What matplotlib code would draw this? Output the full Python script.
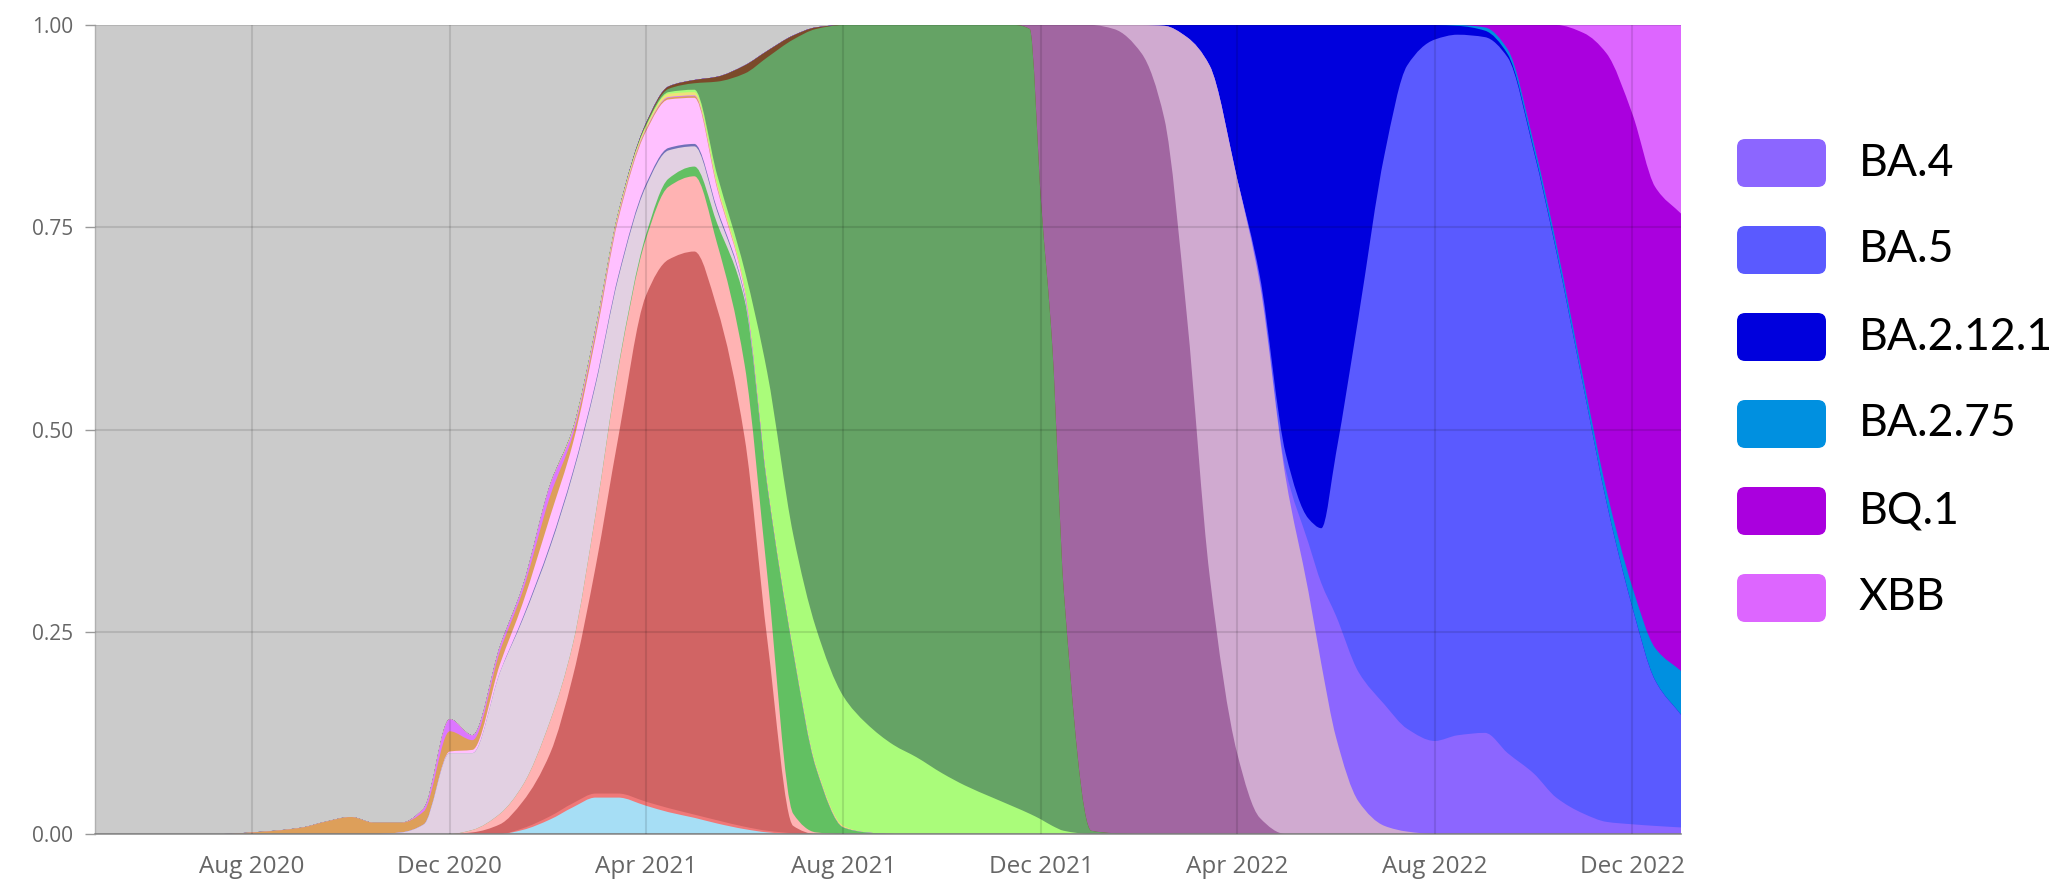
import datetime as dt
import numpy as np
import matplotlib
matplotlib.use("Agg")
import matplotlib.pyplot as plt
import matplotlib.dates as mdates
from matplotlib.patches import FancyBboxPatch, PathPatch
from matplotlib.path import Path

# ---------------- data (share of sequences) ----------------
dates = [
    "2020-05-01", "2020-05-15", "2020-06-01", "2020-06-15", "2020-07-01", "2020-07-15",
    "2020-08-01", "2020-08-15", "2020-09-01", "2020-09-15", "2020-10-01", "2020-10-15",
    "2020-11-01", "2020-11-15", "2020-12-01", "2020-12-15", "2021-01-01", "2021-01-15",
    "2021-02-01", "2021-02-15", "2021-03-01", "2021-03-15", "2021-04-01", "2021-04-15",
    "2021-05-01", "2021-05-15", "2021-06-01", "2021-06-15", "2021-07-01", "2021-07-15",
    "2021-08-01", "2021-08-15", "2021-09-01", "2021-09-15", "2021-10-01", "2021-10-15",
    "2021-11-01", "2021-11-15", "2021-11-24", "2021-12-01", "2021-12-08", "2021-12-15",
    "2022-01-01", "2022-01-15", "2022-02-01", "2022-02-15", "2022-03-01", "2022-03-15",
    "2022-04-01", "2022-04-15", "2022-05-01", "2022-05-15", "2022-05-23", "2022-06-01",
    "2022-06-15", "2022-07-01", "2022-07-15", "2022-08-01", "2022-08-15", "2022-09-01",
    "2022-09-15", "2022-10-01", "2022-10-15", "2022-11-01", "2022-11-15", "2022-12-01",
    "2022-12-15", "2023-01-01",
]


def pad(start, vals):
    """Place the read values from `start` on; the series is 0 elsewhere."""
    i = dates.index(start)
    assert i + len(vals) <= len(dates)
    out = [0.0] * len(dates)
    out[i:i + len(vals)] = vals
    return out


lblue = pad("2021-01-15", [0.005, 0.018, 0.033, 0.045, 0.045, 0.035, 0.027, 0.02, 0.013, 0.006, 0.002])
redl = pad("2021-01-15", [0.002, 0.004, 0.005, 0.005, 0.005, 0.005, 0.005, 0.004, 0.004, 0.003, 0.002, 0.001])
alpha = pad("2020-12-15", [0.002, 0.012, 0.033, 0.078, 0.157, 0.28, 0.44, 0.625, 0.678, 0.696,
                           0.633, 0.481, 0.236, 0.009])
salmon = pad("2020-12-15", [0.003, 0.013, 0.02, 0.04, 0.04, 0.065, 0.085, 0.07, 0.09, 0.093,
                            0.08, 0.09, 0.08, 0.015, 0.002])
mgreen = pad("2021-03-15", [0.002, 0.005, 0.01, 0.012, 0.025, 0.08, 0.11, 0.2, 0.08, 0.008, 0.002])
lav = pad("2020-11-01", [0.002, 0.012, 0.10, 0.095, 0.175, 0.205, 0.215, 0.21, 0.16, 0.11,
                         0.06, 0.035, 0.025, 0.015, 0.005])
dline = pad("2021-01-15", [0.002, 0.003, 0.003, 0.003, 0.003, 0.003, 0.003, 0.003, 0.003, 0.002, 0.001])
pink = pad("2020-12-01", [0.002, 0.004, 0.01, 0.018, 0.035, 0.035, 0.055, 0.07, 0.065, 0.06,
                          0.057, 0.025, 0.005])
orange = pad("2020-08-01", [0.002, 0.004, 0.008, 0.015, 0.021, 0.014, 0.012, 0.016, 0.025, 0.012,
                            0.016, 0.015, 0.025, 0.010, 0.005, 0.003, 0.002, 0.002, 0.002, 0.001])
violet = pad("2020-11-15", [0.004, 0.015, 0.006, 0.006, 0.006, 0.014, 0.006, 0.004, 0.002, 0.001,
                            0.001, 0.001, 0.001])
yellow = pad("2021-02-15", [0.002, 0.003, 0.003, 0.003, 0.004, 0.004, 0.005, 0.005, 0.005, 0.004,
                            0.003, 0.002])
lgreen = pad("2021-04-01", [0.001, 0.002, 0.003, 0.01, 0.02, 0.134, 0.141, 0.17, 0.16, 0.135,
                            0.11, 0.095, 0.075, 0.06, 0.045, 0.033, 0.025, 0.018, 0.01, 0.004])
delta = pad("2021-04-01", [0.002, 0.004, 0.008, 0.115, 0.243, 0.39, 0.612, 0.74, 0.83, 0.863,
                           0.89, 0.905, 0.925, 0.94, 0.955, 0.967, 0.97, 0.762, 0.59, 0.296,
                           0.004, 0.001])
brown = pad("2021-04-01", [0.001, 0.003, 0.004, 0.006, 0.01, 0.008, 0.005, 0.002])
ba1 = pad("2021-11-24", [0.005, 0.22, 0.40, 0.70, 0.996, 0.994, 0.965, 0.885, 0.64, 0.32, 0.10, 0.02])
ba2 = pad("2022-01-15", [0.005, 0.035, 0.114, 0.345, 0.63, 0.71, 0.66, 0.44, 0.30, 0.21,
                         0.12, 0.04, 0.01, 0.003])
ba4 = pad("2022-04-15", [0.005, 0.01, 0.06, 0.10, 0.15, 0.16, 0.15, 0.127, 0.115, 0.122,
                         0.125, 0.10, 0.075, 0.045, 0.025, 0.015, 0.012, 0.01, 0.008])
ba5 = pad("2022-04-15", [0.005, 0.02, 0.03, 0.068, 0.20, 0.44, 0.68, 0.82, 0.867, 0.866,
                         0.86, 0.86, 0.77, 0.675, 0.525, 0.395, 0.268, 0.18, 0.137])
ba2121 = pad("2022-02-15", [0.001, 0.015, 0.05, 0.19, 0.31, 0.53, 0.61, 0.622, 0.53, 0.36,
                            0.16, 0.05, 0.018, 0.011, 0.008, 0.004, 0.002, 0.001])
ba275 = pad("2022-08-15", [0.001, 0.004, 0.006, 0.008, 0.009, 0.01, 0.015, 0.025, 0.04, 0.055])
bq1 = pad("2022-09-01", [0.003, 0.03, 0.145, 0.27, 0.43, 0.54, 0.585, 0.57, 0.565])
xbb = pad("2022-11-01", [0.01, 0.035, 0.11, 0.20, 0.235])

# stack order, bottom to top
layers = [lblue, redl, alpha, salmon, mgreen, lav, dline, pink, orange, violet, yellow,
          lgreen, delta, brown, ba1, ba2, ba4, ba5, ba2121, ba275, bq1, xbb]
colors = ["#a6def5", "#f07878", "#d16464", "#ffb3b3", "#62c062", "#e2d0e2", "#7070b8",
          "#ffc0ff", "#dd9f5a", "#dd77ff", "#eee27a", "#aafc7a", "#65a365", "#7b4a2a",
          "#a166a1", "#d0aad0", "#8c66ff", "#5a5aff", "#0000dd", "#0090e0", "#aa00de",
          "#dd66ff"]

legend_labels = ["BA.4", "BA.5", "BA.2.12.1", "BA.2.75", "BQ.1", "XBB"]
legend_colors = ["#8c66ff", "#5a5aff", "#0000dd", "#0090e0", "#aa00de", "#dd66ff"]

tick_dates = ["2020-08-01", "2020-12-01", "2021-04-01", "2021-08-01",
              "2021-12-01", "2022-04-01", "2022-08-01", "2022-12-01"]
y_ticks = [0.0, 0.25, 0.5, 0.75, 1.0]


# ---------------- smooth (monotone Bezier) outline through the read points ----------------
def hermite_slopes(x, y):
    h = np.diff(x)
    d = np.diff(y) / h
    m = np.zeros_like(y)
    m[0], m[-1] = d[0], d[-1]
    for i in range(1, len(y) - 1):
        if d[i - 1] * d[i] <= 0:
            m[i] = 0.0
        else:
            w1 = 2 * h[i] + h[i - 1]
            w2 = h[i] + 2 * h[i - 1]
            m[i] = (w1 + w2) / (w1 / d[i - 1] + w2 / d[i])
    return m


def area_path(x, y):
    m = hermite_slopes(x, y)
    verts = [(x[0], 0.0), (x[0], y[0])]
    codes = [Path.MOVETO, Path.LINETO]
    for i in range(len(x) - 1):
        h = x[i + 1] - x[i]
        verts += [(x[i] + h / 3, y[i] + m[i] * h / 3),
                  (x[i + 1] - h / 3, y[i + 1] - m[i + 1] * h / 3),
                  (x[i + 1], y[i + 1])]
        codes += [Path.CURVE4] * 3
    verts += [(x[-1], 0.0), (x[0], 0.0)]
    codes += [Path.LINETO, Path.CLOSEPOLY]
    return Path(verts, codes)


# ---------------- figure ----------------
W, H = 2054, 890
fig = plt.figure(figsize=(W / 100, H / 100), dpi=100)
left, right, top, bottom = 95, 1681, 25, 834
ax = fig.add_axes([left / W, 1 - bottom / H, (right - left) / W, (bottom - top) / H])
ax.set_facecolor("#cbcbcb")

ax.set_xlim(dt.date(2020, 4, 26), dt.date(2022, 12, 31))
ax.set_ylim(0, 1)

xnum = mdates.date2num([dt.date.fromisoformat(d) for d in dates])
cum = np.cumsum(np.array(layers, dtype=float), axis=0)
# paint from the top layer down so neighbouring areas leave no seams
for k in range(len(layers) - 1, -1, -1):
    ax.add_patch(PathPatch(area_path(xnum, cum[k]), facecolor=colors[k],
                           edgecolor="none", linewidth=0, zorder=1))

ax.set_xticks([dt.date.fromisoformat(d) for d in tick_dates])
ax.xaxis.set_major_formatter(mdates.DateFormatter("%b %Y"))
ax.set_yticks(y_ticks)
ax.set_yticklabels([f"{v:.2f}" for v in y_ticks])

ax.set_axisbelow(False)
ax.grid(True, color="black", alpha=0.11, linewidth=1.5, zorder=2.5)
for s in ["top", "right"]:
    ax.spines[s].set_visible(False)
ax.spines["left"].set_color("#b0b0b0")
ax.spines["bottom"].set_color("#909090")
ax.spines["left"].set_linewidth(1.0)
ax.spines["bottom"].set_linewidth(1.2)

ax.tick_params(axis="y", length=7, width=1, color="#999999", pad=9,
               labelcolor="#666666", labelsize=15)
ax.tick_params(axis="x", length=0, pad=15, labelcolor="#666666", labelsize=17.5)
for lab in ax.get_xticklabels() + ax.get_yticklabels():
    lab.set_family(["Open Sans", "DejaVu Sans"])

# ---------------- legend (drawn by hand, figure pixels) ----------------
row_y = [163, 250, 337, 424, 511, 598]
pw, ph = 89, 48
px0, tx0 = 1737, 1859
for lab, col, yc in zip(legend_labels, legend_colors, row_y):
    patch = FancyBboxPatch((px0 / W, 1 - (yc + ph / 2) / H), pw / W, ph / H,
                           boxstyle="round,pad=0,rounding_size=0.004",
                           transform=fig.transFigure, facecolor=col, edgecolor="none",
                           mutation_aspect=W / H)
    fig.add_artist(patch)
    fig.text(tx0 / W, 1 - yc / H, lab, ha="left", va="center", color="black",
             fontsize=32, family=["Lato", "DejaVu Sans"])

fig.savefig("out.png", dpi=100)
